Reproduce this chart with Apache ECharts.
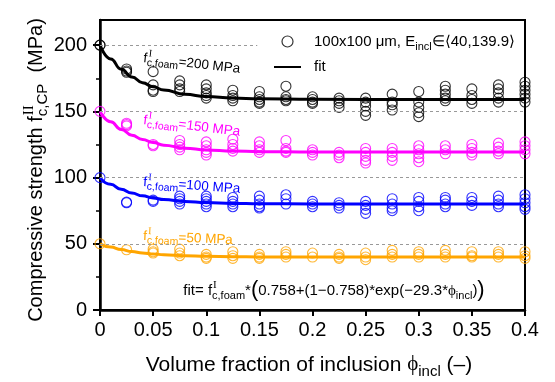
<!DOCTYPE html>
<html><head><meta charset="utf-8">
<script src="https://cdn.jsdelivr.net/npm/echarts@6/dist/echarts.min.js"></script>
<style>html,body{margin:0;padding:0;background:#fff}#c{width:555px;height:382px}</style>
</head><body><div id="c"></div>
<script>
// ---- data ----
const phi = [0, 0.025, 0.05, 0.075, 0.1, 0.125, 0.15, 0.175, 0.2, 0.225, 0.25, 0.275, 0.3, 0.325, 0.35, 0.375, 0.4];
const y200 = [[200, 200], [182, 180.5, 179.5], [180, 170, 166, 165], [173, 170, 167, 165], [170, 167, 164, 162, 160],
  [166, 162, 160, 158], [165, 161, 159, 157, 156], [169, 161, 159, 158], [161, 159, 157, 156], [160, 158, 156, 153],
  [160, 157, 154, 150, 147], [163, 157, 155, 151], [165, 157, 153, 149, 146], [169, 166, 163, 160, 158],
  [167, 162, 159, 156], [170, 167, 164, 160, 157], [172, 169, 166, 163, 160, 157]];
const y150 = [[150], [141, 140, 139], [125, 124], [128, 125, 123, 121], [127, 124, 121, 119, 117], [129, 125, 122, 120],
  [127, 124, 121, 119], [128, 122, 120, 119], [121, 119, 117], [119, 117, 115], [122, 119, 116, 113, 111],
  [122, 119, 116, 113], [124, 121, 118, 115, 112], [124, 121, 118], [125, 122, 119, 117], [126, 123, 120, 118],
  [127, 124, 121, 118]];
const y100 = [[100], [81.5, 81], [83, 82], [86, 84, 82, 80], [86, 84, 82, 80, 78], [85, 82, 80, 78], [86, 83, 80, 78, 77],
  [87, 84, 80], [82, 80, 78], [81, 79, 77], [82, 79, 76, 73], [84, 80, 77, 75], [85, 82, 78, 75], [85, 83, 80, 78],
  [85, 82, 79], [86, 83, 80, 78], [87, 84, 81, 78, 76]];
const y50 = [[50], [45.5], [46, 44, 43], [46, 43, 41], [42, 40, 39], [44, 41, 39], [42, 40, 39], [44, 42, 40], [43, 40],
  [42, 40, 39], [43, 40, 38], [45, 42, 40], [44, 42, 40], [45, 42, 40], [44, 41, 40], [44, 42, 40], [44, 41, 39]];
const fitPhi = [0, 0.01, 0.02, 0.03, 0.04, 0.05, 0.06, 0.08, 0.1, 0.125, 0.15, 0.2, 0.3, 0.4];
const fit200 = [200, 189.6, 181.8, 176.0, 171.7, 168.5, 166.1, 162.9, 161.2, 160.1, 159.5, 159.1, 159.0, 159.0];
const fit150 = [150, 142.2, 136.4, 132.0, 128.8, 126.4, 124.5, 122.2, 120.9, 120.0, 119.6, 119.3, 119.3, 119.3];
const fit100 = [100, 94.9, 91.1, 88.3, 86.2, 84.6, 83.4, 81.9, 81.1, 80.5, 80.2, 80.1, 80.0, 80.0];
const fit50 = [50, 47.5, 45.6, 44.2, 43.1, 42.3, 41.7, 41.0, 40.5, 40.3, 40.1, 40.0, 40.0, 40.0];
const foamStrength = [200, 150, 100, 50];
const yTickValues = [0, 50, 100, 150, 200];
const yMinorValues = [25, 75, 125, 175];

// ---- helpers ----
const SANS = '"Liberation Sans", Arial, Helvetica, sans-serif';
const SERIF = '"Liberation Serif", "Times New Roman", serif';
const mctx = document.createElement('canvas').getContext('2d');
function tw(t, s, f) { mctx.font = s + 'px ' + f; return mctx.measureText(t).width; }
function mathText(parts, x, y, opt) {
  opt = opt || {};
  const color = opt.color || '#000';
  const kids = []; let cx = 0;
  parts.forEach(p => {
    const items = p.stack || [p]; let w = 0;
    items.forEach(q => {
      const fam = q.fam || SANS; const ww = tw(q.t, q.s, fam); w = Math.max(w, ww);
      kids.push({ type: 'text', x: cx + (q.dx || 0), y: (q.dy || 0) - 0.345 * q.s,
        style: { text: q.t, font: q.s + 'px ' + fam, fill: color, align: 'left', verticalAlign: 'middle',
          textAlign: 'left', textVerticalAlign: 'middle' } });
    });
    cx += w + (p.gap || 0);
  });
  const shift = opt.align === 'center' ? -cx / 2 : 0;
  kids.forEach(k => { k.x += shift; });
  return { type: 'group', x: x, y: y, rotation: opt.rot || 0, silent: true, z: 100, children: kids };
}
function pts(groups) { const out = []; groups.forEach((g, i) => g.forEach(v => out.push([phi[i], v]))); return out; }
function fitPts(vals) { return fitPhi.map((x, i) => [x, vals[i]]); }

const colors = ['#000000', '#ff00ff', '#0000ff', '#ffa500'];
const groups = [y200, y150, y100, y50];
const fits = [fit200, fit150, fit100, fit50];
const refLine = { symbol: 'none', silent: true, label: { show: false }, lineStyle: { color: '#999', type: [3, 3], width: 1 } };

const series = [];
groups.forEach((g, k) => {
  const ml = k === 0
    ? [[{ coord: [0, foamStrength[k]] }, { coord: [0.148, foamStrength[k]] }]]
    : [{ yAxis: foamStrength[k] }];
  series.push({
    name: k === 0 ? 'data' : 'data' + foamStrength[k], type: 'scatter', data: pts(g),
    symbol: 'circle', symbolSize: 10,
    itemStyle: { color: 'rgba(0,0,0,0)', borderColor: colors[k], borderWidth: 1.1 },
    emphasis: { disabled: true },
    markLine: Object.assign({ data: ml }, refLine), z: 2
  });
});
fits.forEach((f, k) => {
  series.push({
    name: k === 0 ? 'fit' : 'fit' + foamStrength[k], type: 'line', data: fitPts(f),
    symbol: 'none', showSymbol: false, smooth: 0.5, smoothMonotone: 'x',
    lineStyle: { color: colors[k], width: 3 }, itemStyle: { color: colors[k] },
    emphasis: { disabled: true }, z: 3
  });
});

const graphics = [];
const annoY = [63, 125, 187, 241];
const annoRot = [-0.11, -0.12, -0.07, -0.045];
foamStrength.forEach((v, k) => {
  graphics.push(mathText([
    { t: 'f', s: 13.5 },
    { stack: [{ t: 'I', s: 10, fam: SERIF, dy: -6.5, dx: 1 }, { t: 'c,foam', s: 10.5, dy: 3 }] },
    { t: '=' + v + ' MPa', s: 13.5 }
  ], 143, annoY[k], { rot: annoRot[k], color: colors[k] }));
});
// formula
graphics.push(mathText([
  { t: 'fit= f', s: 15 },
  { stack: [{ t: 'I', s: 11, fam: SERIF, dy: -7, dx: 1 }, { t: 'c,foam', s: 11, dy: 4 }] },
  { t: '*', s: 15 },
  { t: '(', s: 22, dy: 2 },
  { t: '0.758+(1\u22120.758)*exp(\u221229.3*', s: 15 },
  { t: '\u03d5', s: 15, fam: SERIF },
  { t: 'incl', s: 11, dy: 4 },
  { t: ')', s: 15 },
  { t: ')', s: 22, dy: 2 }
], 334, 296, { align: 'center' }));
// x axis title
graphics.push(mathText([
  { t: 'Volume fraction of inclusion ', s: 21 },
  { t: '\u03d5', s: 21, fam: SERIF },
  { t: 'incl', s: 15, dy: 5 },
  { t: ' (\u2013)', s: 21 }
], 309, 372, { align: 'center' }));
// y axis title
graphics.push(mathText([
  { t: 'Compressive strength f', s: 20 },
  { stack: [{ t: 'II', s: 15, fam: SERIF, dy: -9, dx: 1 }, { t: 'c,CP', s: 15, dy: 5 }] },
  { t: '  (MPa)', s: 20 }
], 43, 170, { align: 'center', rot: Math.PI / 2 }));

const chart = echarts.init(document.getElementById('c'), null, { renderer: 'canvas' });
chart.setOption({
  animation: false,
  backgroundColor: '#fff',
  textStyle: { fontFamily: SANS },
  grid: { left: 100, right: 30, top: 20, bottom: 72, show: true, borderColor: '#000', borderWidth: 2, backgroundColor: 'transparent' },
  legend: {
    orient: 'vertical', left: 273, top: 31, padding: 0, itemGap: 6, itemWidth: 27, itemHeight: 11,
    data: [
      { name: 'data', icon: 'circle', itemStyle: { color: 'rgba(0,0,0,0)', borderColor: '#000', borderWidth: 1.2 } },
      { name: 'fit', itemStyle: { color: 'rgba(0,0,0,0)', borderColor: 'rgba(0,0,0,0)', borderWidth: 0, opacity: 0 } }
    ],
    selectedMode: false,
    formatter: n => n === 'data' ? '{m|100x100 \u03bcm, E}{s|incl}{m|\u2208\u27e840,139.9\u27e9}' : '{m|fit}',
    textStyle: {
      fontFamily: SANS, fontSize: 15, color: '#000', lineHeight: 18, padding: [0, 0, 0, 8],
      rich: { m: { fontSize: 15, lineHeight: 18, fontFamily: SANS, color: '#000' },
              s: { fontSize: 11, lineHeight: 8, padding: [10, 0, 0, 0], fontFamily: SANS, color: '#000' } }
    }
  },
  xAxis: {
    type: 'value', min: 0, max: 0.4, interval: 0.05,
    axisLine: { show: true, lineStyle: { color: '#000', width: 2.5 } },
    axisTick: { show: true, length: 6, lineStyle: { color: '#000', width: 2 } },
    axisLabel: { fontSize: 20, color: '#000', margin: 10, fontFamily: SANS },
    splitLine: { show: false }
  },
  yAxis: [{
    type: 'value', min: 0, max: 219, interval: 50,
    axisLine: { show: true, lineStyle: { color: '#000', width: 2.5 } },
    axisTick: { show: true, length: 7, customValues: yTickValues, lineStyle: { color: '#000', width: 2 } },
    axisLabel: { fontSize: 20, color: '#000', margin: 13, fontFamily: SANS, customValues: yTickValues,
      formatter: v => (v % 50 === 0 ? String(v) : '') },
    splitLine: { show: false }
  }, {
    type: 'value', min: 0, max: 219, position: 'left',
    axisLine: { show: false },
    axisTick: { show: true, length: 4, customValues: yMinorValues, lineStyle: { color: '#000', width: 1.5 } },
    axisLabel: { show: false },
    splitLine: { show: false }
  }],
  series: series,
  graphic: graphics
});
</script></body></html>
